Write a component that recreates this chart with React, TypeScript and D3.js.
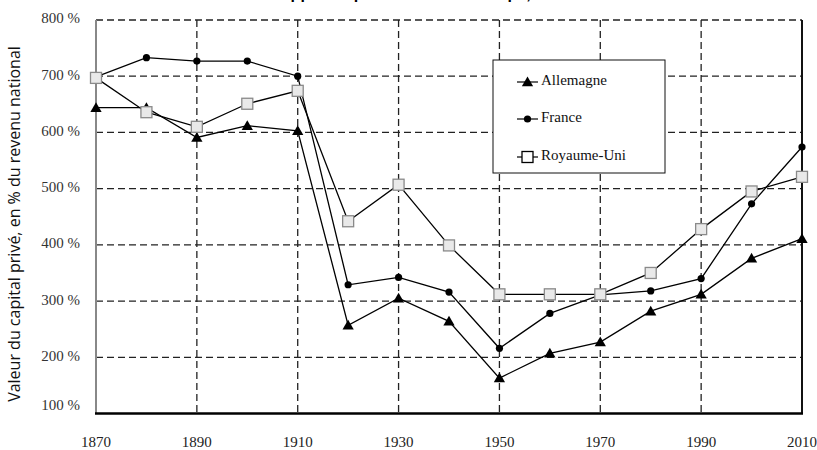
import React, { useRef, useEffect } from 'react';
import * as d3 from 'd3';

const years = [1870, 1880, 1890, 1900, 1910, 1920, 1930, 1940, 1950, 1960, 1970, 1980, 1990, 2000, 2010];
const allemagne = [644, 644, 591, 612, 603, 257, 305, 264, 163, 207, 227, 282, 312, 376, 411];
const france = [699, 733, 727, 727, 700, 329, 342, 316, 216, 278, 311, 318, 340, 473, 574];
const royaumeUni = [697, 636, 610, 651, 674, 442, 507, 399, 312, 312, 312, 350, 428, 495, 521];
const yTicks = [100, 200, 300, 400, 500, 600, 700, 800];
const xTicks = [1870, 1890, 1910, 1930, 1950, 1970, 1990, 2010];
const seriesNames = ['Allemagne', 'France', 'Royaume-Uni'];

const W = 817;
const H = 450;
const SERIF = "'Liberation Serif', 'Times New Roman', 'DejaVu Serif', serif";

const App: React.FC = () => {
  const svgRef = useRef<SVGSVGElement>(null);

  useEffect(() => {
    document.body.style.margin = '0';
    if (!svgRef.current) return;
    const svg = d3.select(svgRef.current);
    svg.selectAll('*').remove();

    const left = 96, right = 802, top = 20, bottom = 413.5;
    const x = d3.scaleLinear().domain([1870, 2010]).range([left, right]);
    const y = d3.scaleLinear().domain([100, 800]).range([bottom, top]);

    // title, clipped by the top edge as in the source image
    svg.append('text')
      .attr('x', 432).attr('y', -1)
      .attr('text-anchor', 'middle')
      .attr('font-family', 'Arial, "Liberation Sans", sans-serif')
      .attr('font-weight', 'bold').attr('font-size', 16)
      .text('Le rapport capital/revenu en Europe, 1870-2010');

    // grid
    const grid = svg.append('g').attr('stroke', '#222').attr('stroke-width', 1.3).attr('stroke-dasharray', '7,4');
    yTicks.filter(v => v > 100).forEach(v => {
      grid.append('line').attr('x1', left).attr('x2', right).attr('y1', y(v)).attr('y2', y(v));
    });
    xTicks.filter(v => v > 1870 && v < 2010).forEach(v => {
      grid.append('line').attr('x1', x(v)).attr('x2', x(v)).attr('y1', top).attr('y2', bottom);
    });

    // frame
    svg.append('line').attr('x1', left).attr('x2', left).attr('y1', top).attr('y2', bottom)
      .attr('stroke', '#888').attr('stroke-width', 2);
    svg.append('line').attr('x1', right).attr('x2', right).attr('y1', top).attr('y2', bottom)
      .attr('stroke', '#111').attr('stroke-width', 2);
    svg.append('line').attr('x1', left - 1).attr('x2', right + 1).attr('y1', bottom).attr('y2', bottom)
      .attr('stroke', '#000').attr('stroke-width', 2.5);

    // y tick labels
    yTicks.forEach(v => {
      svg.append('text')
        .attr('x', 80).attr('y', v === 100 ? y(v) - 7 : y(v))
        .attr('text-anchor', 'end').attr('dominant-baseline', 'middle')
        .attr('font-family', SERIF)
        .attr('font-size', 15).attr('fill', '#333')
        .text(`${v} %`);
    });

    // x tick labels
    xTicks.forEach(v => {
      svg.append('text')
        .attr('x', x(v)).attr('y', 447)
        .attr('text-anchor', 'middle')
        .attr('font-family', SERIF)
        .attr('font-size', 15).attr('fill', '#222')
        .text(String(v));
    });

    // y axis title
    svg.append('text')
      .attr('transform', `translate(20,${224}) rotate(-90)`)
      .attr('text-anchor', 'middle')
      .attr('font-family', '"Open Sans", sans-serif')
      .attr('font-size', 16).attr('fill', '#111')
      .text('Valeur du capital privé, en % du revenu national');

    // legend box
    const lg = svg.append('g');
    lg.append('rect').attr('x', 493).attr('y', 60).attr('width', 172).attr('height', 113)
      .attr('fill', '#fff').attr('stroke', '#111').attr('stroke-width', 1);

    const line = d3.line<number>().x((_, i) => x(years[i])).y(d => y(d));
    const triangle = d3.symbol().type(d3.symbolTriangle).size(55);

    const drawTri = (g: any, cx: number, cy: number) =>
      g.append('path').attr('d', triangle()).attr('transform', `translate(${cx},${cy + 1})`).attr('fill', '#000');
    const drawDot = (g: any, cx: number, cy: number) =>
      g.append('circle').attr('cx', cx).attr('cy', cy).attr('r', 3.6).attr('fill', '#000');
    const drawSq = (g: any, cx: number, cy: number, legend = false) =>
      g.append('rect').attr('x', cx - 5.5).attr('y', cy - 5.5).attr('width', 11).attr('height', 11)
        .attr('fill', legend ? '#fff' : '#e9e9e9').attr('stroke', legend ? '#000' : '#8a8a8a').attr('stroke-width', 1.3);

    const series = [
      { values: allemagne, draw: drawTri },
      { values: france, draw: drawDot },
      { values: royaumeUni, draw: drawSq },
    ];

    const plot = svg.append('g');
    series.forEach(s => {
      plot.append('path').attr('d', line(s.values) as string)
        .attr('fill', 'none').attr('stroke', '#000').attr('stroke-width', 1.3);
    });
    series.forEach(s => {
      s.values.forEach((v, i) => s.draw(plot, x(years[i]), y(v)));
    });

    const legendY = [82, 119, 157];
    seriesNames.forEach((name, i) => {
      const cy = legendY[i];
      lg.append('line').attr('x1', 517).attr('x2', 538).attr('y1', cy).attr('y2', cy)
        .attr('stroke', '#000').attr('stroke-width', 1.2);
      if (i === 0) drawTri(lg, 527.5, cy);
      if (i === 1) drawDot(lg, 527.5, cy);
      if (i === 2) drawSq(lg, 527.5, cy, true);
      lg.append('text').attr('x', 541).attr('y', cy).attr('dominant-baseline', 'middle')
        .attr('font-family', SERIF).attr('font-size', 15).attr('fill', '#111')
        .text(name);
    });
  }, []);

  return <svg ref={svgRef} width={W} height={H} style={{ display: 'block', background: '#fff' }} />;
};

export default App;
